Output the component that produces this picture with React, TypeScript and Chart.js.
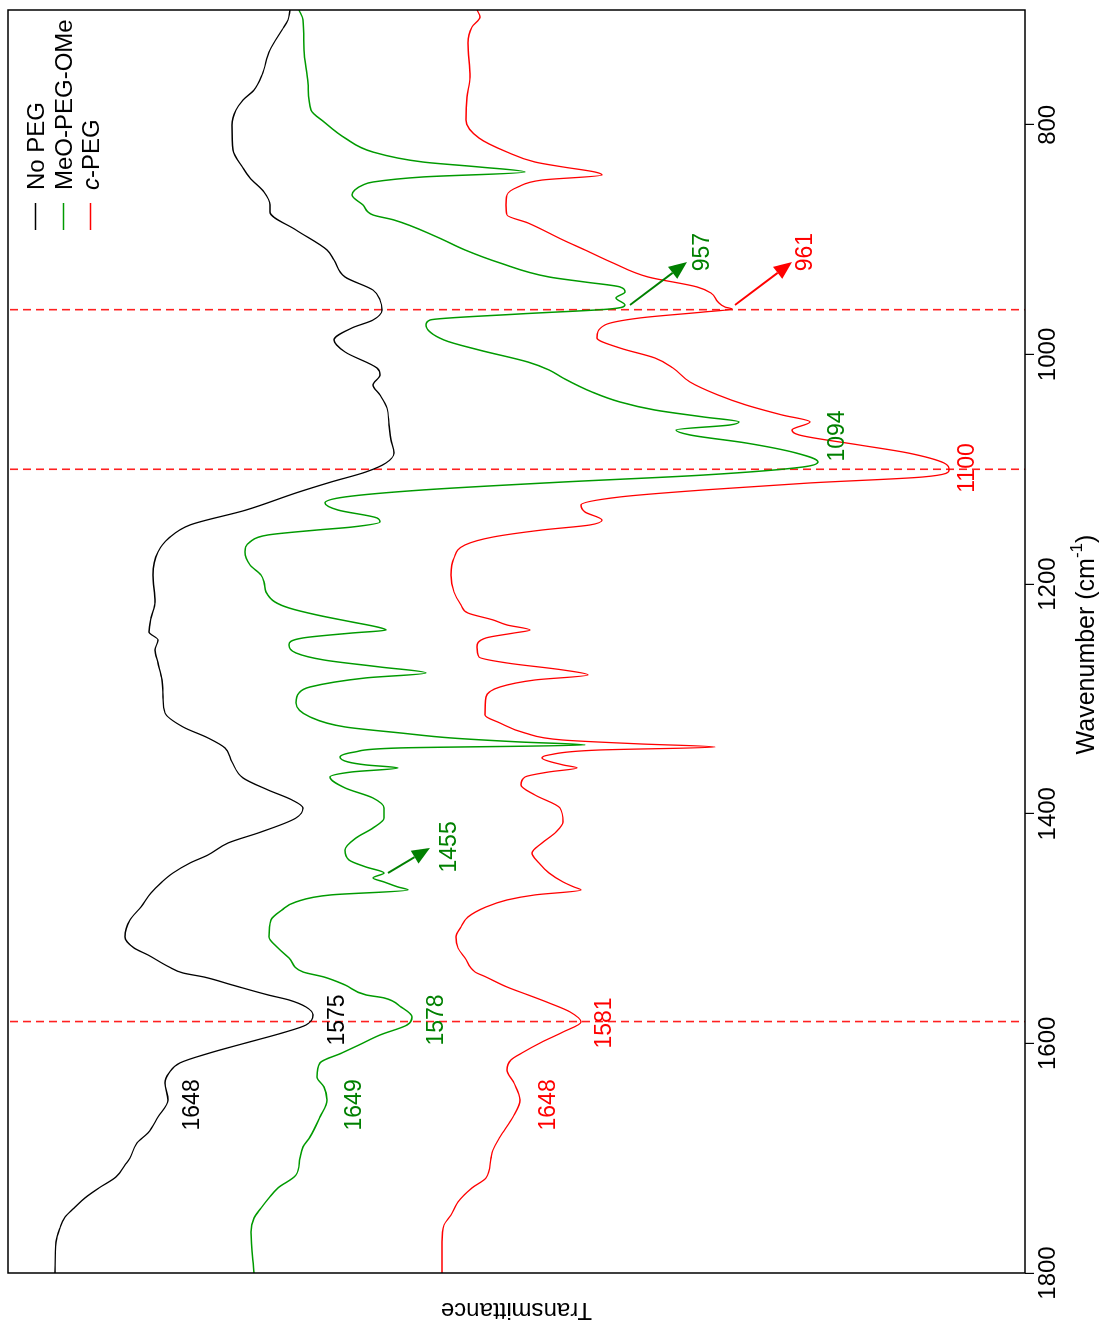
import React, { useEffect, useRef } from "react";
import { Chart, registerables } from "chart.js";

Chart.register(...registerables);

const FONT = '"Liberation Sans", Arial, Helvetica, sans-serif';

// ---------- data (wavenumber in cm-1, transmittance in arbitrary units) ----------
const noPegWavenumber = [700, 708.7, 717.4, 734.8, 756.6, 769.7, 778.4, 787.1, 800.2, 821.9, 837.6, 846.3, 858.5, 869.8, 875.9, 891.6, 909.0, 917.7, 932.5, 943.9, 952.6, 961.3, 970.0, 976.9, 987.4, 997.8, 1011.8, 1017.9, 1026.6, 1035.3, 1046.6, 1061.4, 1074.5, 1085.8, 1094.5, 1102.3, 1111.1, 1120.6, 1135.5, 1148.5, 1159.8, 1172.0, 1192.1, 1215.6, 1229.5, 1241.7, 1248.7, 1257.4, 1268.7, 1283.5, 1298.3, 1312.2, 1324.4, 1334.0, 1342.7, 1354.9, 1368.8, 1379.3, 1388.0, 1395.0, 1403.7, 1415.9, 1425.5, 1435.9, 1442.9, 1451.6, 1459.4, 1469.0, 1481.2, 1492.5, 1507.3, 1516.9, 1523.0, 1533.4, 1538.7, 1542.2, 1549.1, 1557.8, 1562.2, 1568.3, 1575.2, 1584.0, 1591.0, 1599.6, 1608.3, 1617.0, 1625.8, 1634.5, 1649.3, 1664.1, 1678.0, 1686.7, 1699.8, 1705.9, 1716.3, 1725.9, 1734.6, 1743.5, 1751.3, 1760.8, 1773.0, 1800];
const noPegTransmittance = [73.5, 73.7, 74.3, 75.5, 76.3, 77.1, 78.2, 78.9, 79.3, 79.2, 78.2, 77.5, 76.1, 75.5, 75.5, 72.9, 69.8, 69.1, 68.0, 65.2, 64.5, 64.3, 65.2, 67.3, 69.1, 68.0, 64.8, 64.5, 65.2, 64.5, 63.8, 63.6, 63.4, 63.1, 63.9, 65.9, 69.4, 72.9, 77.9, 83.5, 85.6, 86.7, 87.2, 87.0, 87.4, 87.6, 86.7, 87.0, 86.7, 86.3, 86.2, 86.0, 84.2, 81.7, 80.0, 79.3, 78.2, 75.7, 73.3, 72.2, 72.9, 76.4, 79.7, 81.7, 83.5, 85.2, 86.3, 87.4, 88.4, 89.5, 90.0, 89.1, 87.7, 85.6, 84.2, 82.1, 79.3, 75.7, 73.6, 71.9, 71.2, 71.9, 74.3, 77.9, 81.5, 84.5, 85.6, 86.0, 85.7, 86.7, 87.7, 88.8, 89.5, 90.0, 90.9, 92.6, 94.0, 95.1, 96.0, 96.5, 96.9, 97.0];

const meoPegWavenumber = [700, 708.7, 734.8, 763.6, 787.1, 797.5, 811.5, 823.7, 832.4, 836.7, 841.1, 845.4, 849.8, 852.4, 861.1, 869.8, 878.5, 882.9, 897.7, 909.0, 920.3, 932.5, 936.9, 941.2, 945.6, 950.8, 956.9, 960.4, 964.7, 970.0, 974.3, 987.4, 996.1, 1006.6, 1013.5, 1020.5, 1032.7, 1041.4, 1048.4, 1054.5, 1058.8, 1061.4, 1065.8, 1070.1, 1077.1, 1085.8, 1093.6, 1098.0, 1105.0, 1111.1, 1118.0, 1124.1, 1129.3, 1135.5, 1142.4, 1145.9, 1150.3, 1152.9, 1157.2, 1163.3, 1172.0, 1183.3, 1192.1, 1198.2, 1206.9, 1215.6, 1220.8, 1226.9, 1233.0, 1237.3, 1240.0, 1242.6, 1246.9, 1253.0, 1260.0, 1266.1, 1272.2, 1277.4, 1281.7, 1289.6, 1294.8, 1303.5, 1315.7, 1324.4, 1329.7, 1334.0, 1337.5, 1340.1, 1342.7, 1346.2, 1350.6, 1354.9, 1357.5, 1360.1, 1363.6, 1368.0, 1377.5, 1386.3, 1395.0, 1403.7, 1412.4, 1421.1, 1431.6, 1440.3, 1446.4, 1451.6, 1455.9, 1459.4, 1463.8, 1466.4, 1470.7, 1476.8, 1483.8, 1492.5, 1507.3, 1516.9, 1525.6, 1537.8, 1542.2, 1549.1, 1557.8, 1560.4, 1568.3, 1577.0, 1584.0, 1592.7, 1601.4, 1608.3, 1617.0, 1629.3, 1638.0, 1649.3, 1664.1, 1681.5, 1690.2, 1699.8, 1714.6, 1725.9, 1734.6, 1743.5, 1752.2, 1764.3, 1800];
const meoPegTransmittance = [72.6, 72.2, 72.1, 71.7, 71.4, 70.1, 68.0, 65.2, 60.2, 54.6, 50.0, 60.2, 65.2, 66.2, 67.3, 66.2, 65.2, 63.1, 58.8, 56.0, 52.5, 47.6, 44.0, 40.5, 40.0, 40.9, 40.0, 41.5, 50.5, 59.5, 59.9, 58.1, 54.6, 49.7, 47.6, 46.2, 43.3, 40.5, 37.0, 32.1, 28.6, 29.5, 34.9, 33.5, 27.9, 22.9, 20.7, 22.2, 32.1, 46.2, 60.2, 68.0, 70.0, 68.7, 64.8, 64.5, 67.3, 70.8, 75.7, 77.5, 78.0, 77.5, 76.4, 76.1, 75.9, 75.0, 73.6, 70.8, 67.3, 64.8, 63.9, 67.3, 72.2, 73.6, 72.9, 70.1, 64.5, 59.9, 65.9, 71.5, 72.6, 72.9, 71.5, 68.0, 62.4, 57.4, 50.5, 44.0, 62.5, 67.0, 68.5, 67.7, 65.9, 62.7, 67.3, 69.5, 68.0, 65.2, 64.1, 64.1, 65.2, 66.9, 68.0, 67.6, 65.9, 64.1, 65.2, 64.1, 62.7, 61.7, 69.4, 72.9, 74.3, 75.4, 75.6, 74.7, 73.6, 72.2, 70.1, 68.0, 65.9, 64.1, 62.4, 61.3, 61.8, 64.5, 66.6, 68.3, 70.5, 70.8, 70.1, 69.8, 70.5, 71.5, 72.2, 72.5, 72.9, 74.7, 75.6, 76.4, 77.1, 77.4, 77.1];

const cPegWavenumber = [700, 706.1, 714.8, 728.7, 758.4, 775.8, 795.8, 811.5, 823.7, 832.4, 836.7, 841.1, 843.7, 848.1, 854.1, 861.1, 869.8, 878.5, 885.5, 900.3, 909.0, 920.3, 932.5, 941.2, 946.5, 954.3, 958.7, 960.4, 963.0, 968.2, 974.3, 985.6, 994.4, 1003.1, 1011.8, 1024.0, 1035.3, 1044.0, 1052.7, 1058.8, 1065.8, 1070.1, 1078.8, 1085.8, 1094.5, 1100.6, 1106.7, 1111.9, 1118.0, 1124.1, 1131.1, 1137.2, 1144.2, 1148.5, 1152.9, 1159.0, 1165.9, 1177.3, 1192.1, 1206.9, 1218.2, 1225.2, 1231.2, 1235.6, 1240.0, 1242.6, 1246.9, 1254.8, 1263.5, 1268.7, 1274.8, 1279.1, 1283.5, 1289.6, 1298.3, 1314.0, 1321.0, 1329.7, 1335.8, 1339.2, 1341.9, 1344.5, 1348.8, 1351.4, 1357.5, 1360.1, 1363.6, 1368.0, 1374.9, 1383.7, 1395.0, 1407.2, 1415.9, 1425.5, 1434.2, 1442.9, 1451.6, 1459.4, 1463.8, 1466.4, 1470.7, 1475.1, 1481.2, 1489.9, 1498.6, 1507.3, 1516.9, 1525.6, 1537.8, 1542.2, 1550.9, 1557.8, 1564.8, 1572.6, 1581.3, 1590.1, 1598.8, 1608.3, 1614.4, 1623.2, 1634.5, 1649.3, 1664.1, 1681.5, 1692.8, 1699.8, 1717.2, 1725.9, 1738.1, 1749.5, 1758.2, 1773.0, 1800];
const cPegTransmittance = [54.8, 54.5, 55.3, 55.7, 55.5, 55.8, 55.9, 54.6, 51.8, 49.0, 46.2, 43.0, 42.3, 48.3, 50.7, 51.8, 51.9, 51.8, 49.7, 46.2, 44.0, 41.2, 37.7, 32.8, 31.4, 30.7, 30.0, 29.3, 32.1, 38.5, 42.0, 42.8, 40.5, 37.0, 35.2, 33.5, 30.7, 27.9, 24.3, 21.5, 23.3, 22.6, 16.6, 11.7, 8.1, 7.6, 10.2, 21.5, 32.1, 40.5, 44.4, 44.0, 42.3, 43.5, 48.3, 53.2, 56.0, 57.1, 57.4, 57.1, 56.4, 55.7, 53.2, 51.8, 49.5, 51.1, 53.9, 54.8, 54.6, 51.8, 46.2, 43.7, 49.0, 52.5, 53.9, 54.0, 52.5, 50.0, 46.2, 38.5, 31.0, 42.6, 47.6, 48.3, 46.2, 44.8, 47.6, 50.0, 50.4, 49.0, 46.5, 46.2, 46.9, 48.3, 49.3, 48.6, 47.6, 46.2, 45.1, 44.4, 49.0, 51.8, 53.9, 55.7, 56.4, 56.9, 56.7, 56.0, 55.0, 53.9, 51.8, 49.7, 47.6, 45.5, 44.4, 46.2, 48.3, 50.3, 51.4, 51.8, 51.1, 50.5, 51.2, 52.5, 53.2, 53.4, 53.9, 55.3, 56.7, 57.4, 58.1, 58.3, 58.3];

const seriesNames = ["No PEG", "MeO-PEG-OMe", "c-PEG"];
const lineColors = ["#000000", "#009a00", "#ff0000"];
const textColors = ["#000000", "#008000", "#ff0000"];

const xTickValues = [800, 1000, 1200, 1400, 1600, 1800];
const markerWavenumbers = [961, 1100, 1581];

// peak annotations: label text, anchor wavenumber, anchor transmittance, series index
const peakLabelText = ["1648", "1649", "1648", "1575", "1578", "1581", "1455", "1094", "1100", "957", "961"];
const peakLabelWn = [1653.6, 1653.6, 1653.6, 1579.6, 1579.6, 1582.2, 1428.9, 1071.0, 1098.9, 910.8, 910.8];
const peakLabelT = [83.2, 67.0, 47.6, 68.7, 58.8, 42.0, 57.5, 18.7, 5.7, 32.2, 21.9];
const peakLabelSeries = [0, 1, 2, 0, 1, 2, 1, 1, 2, 1, 2];

// arrows: tail (wn, T) -> head (wn, T)
const arrowFromWn = [956.9, 956.9, 1451.6];
const arrowFromT = [39.5, 29.0, 63.7];
const arrowToWn = [919.5, 919.5, 1429.8];
const arrowToT = [33.8, 23.3, 59.5];
const arrowSeries = [1, 2, 1];

const W = 1328;
const H = 1102;

const decorPlugin = {
  id: "decor",
  beforeDatasetsDraw(chart: any) {
    const { ctx, chartArea: a, scales } = chart;
    ctx.save();
    ctx.strokeStyle = "#ff2020";
    ctx.lineWidth = 1.6;
    ctx.setLineDash([8, 5]);
    markerWavenumbers.forEach((w) => {
      const px = scales.x.getPixelForValue(w);
      ctx.beginPath();
      ctx.moveTo(px, a.top + 2);
      ctx.lineTo(px, a.bottom);
      ctx.stroke();
    });
    ctx.restore();
  },
  afterDraw(chart: any) {
    const { ctx, chartArea: a, scales } = chart;
    const xs = scales.x;
    const ys = scales.y;
    ctx.save();

    // frame
    ctx.strokeStyle = "#000";
    ctx.lineWidth = 1.5;
    ctx.setLineDash([]);
    ctx.strokeRect(a.left, a.top, a.right - a.left, a.bottom - a.top);

    // peak labels
    ctx.font = `23px ${FONT}`;
    ctx.textAlign = "center";
    ctx.textBaseline = "middle";
    peakLabelText.forEach((t, i) => {
      ctx.fillStyle = textColors[peakLabelSeries[i]];
      ctx.fillText(t, xs.getPixelForValue(peakLabelWn[i]), ys.getPixelForValue(peakLabelT[i]));
    });

    // arrows
    arrowFromWn.forEach((_, i) => {
      const x0 = xs.getPixelForValue(arrowFromWn[i]);
      const y0 = ys.getPixelForValue(arrowFromT[i]);
      const x1 = xs.getPixelForValue(arrowToWn[i]);
      const y1 = ys.getPixelForValue(arrowToT[i]);
      const ang = Math.atan2(y1 - y0, x1 - x0);
      const headLen = 18;
      const headHalf = 7.5;
      const bx = x1 - headLen * Math.cos(ang);
      const by = y1 - headLen * Math.sin(ang);
      const col = textColors[arrowSeries[i]];
      ctx.strokeStyle = col;
      ctx.fillStyle = col;
      ctx.lineWidth = 2;
      ctx.beginPath();
      ctx.moveTo(x0, y0);
      ctx.lineTo(bx, by);
      ctx.stroke();
      ctx.beginPath();
      ctx.moveTo(x1, y1);
      ctx.lineTo(bx + headHalf * Math.sin(ang), by - headHalf * Math.cos(ang));
      ctx.lineTo(bx - headHalf * Math.sin(ang), by + headHalf * Math.cos(ang));
      ctx.closePath();
      ctx.fill();
    });

    // legend (top-right)
    const rowY = [a.top + 27, a.top + 55, a.top + 82];
    ctx.font = `24px ${FONT}`;
    ctx.textAlign = "left";
    ctx.textBaseline = "alphabetic";
    seriesNames.forEach((name, i) => {
      ctx.strokeStyle = lineColors[i];
      ctx.lineWidth = 1.5;
      ctx.beginPath();
      ctx.moveTo(a.right - 220, rowY[i] + 0.5);
      ctx.lineTo(a.right - 193, rowY[i] + 0.5);
      ctx.stroke();
      ctx.fillStyle = "#000";
      const tx = a.right - 180;
      const ty = rowY[i] + 8.6;
      if (name.startsWith("c-")) {
        ctx.font = `italic 24px ${FONT}`;
        ctx.fillText("c", tx, ty);
        const cw = ctx.measureText("c").width;
        ctx.font = `24px ${FONT}`;
        ctx.fillText(name.slice(1), tx + cw, ty);
      } else {
        ctx.fillText(name, tx, ty);
      }
    });

    // x axis title with superscript
    const main = "Wavenumber (cm";
    const sup = "-1";
    const close = ")";
    ctx.fillStyle = "#000";
    ctx.font = `25px ${FONT}`;
    const wMain = ctx.measureText(main).width;
    const wClose = ctx.measureText(close).width;
    ctx.font = `17px ${FONT}`;
    const wSup = ctx.measureText(sup).width;
    const total = wMain + wSup + wClose;
    const cx = (a.left + a.right) / 2 - 3;
    const base = a.bottom + 69;
    let x = cx - total / 2;
    ctx.font = `25px ${FONT}`;
    ctx.fillText(main, x, base);
    x += wMain;
    ctx.font = `17px ${FONT}`;
    ctx.fillText(sup, x, base - 12);
    x += wSup;
    ctx.font = `25px ${FONT}`;
    ctx.fillText(close, x, base);

    // y axis title
    ctx.translate(16, (a.top + a.bottom) / 2);
    ctx.rotate(-Math.PI / 2);
    ctx.textAlign = "center";
    ctx.font = `24px ${FONT}`;
    ctx.fillText("Transmittance", 0, 8.6);

    ctx.restore();
  },
};

function toPoints(wn: number[], t: number[]) {
  return wn.map((w, i) => ({ x: w, y: t[i] })).reverse();
}

export default function App() {
  const ref = useRef<HTMLCanvasElement>(null);

  useEffect(() => {
    const canvas = ref.current;
    if (!canvas) return;
    const chart = new Chart(canvas, {
      type: "line",
      data: {
        datasets: [
          {
            label: seriesNames[0],
            data: toPoints(noPegWavenumber, noPegTransmittance),
            borderColor: lineColors[0],
            borderWidth: 1.3,
            pointRadius: 0,
            fill: false,
            cubicInterpolationMode: "monotone",
          },
          {
            label: seriesNames[1],
            data: toPoints(meoPegWavenumber, meoPegTransmittance),
            borderColor: lineColors[1],
            borderWidth: 1.5,
            pointRadius: 0,
            fill: false,
            cubicInterpolationMode: "monotone",
          },
          {
            label: seriesNames[2],
            data: toPoints(cPegWavenumber, cPegTransmittance),
            borderColor: lineColors[2],
            borderWidth: 1.3,
            pointRadius: 0,
            fill: false,
            cubicInterpolationMode: "monotone",
          },
        ],
      } as any,
      options: {
        responsive: false,
        animation: false,
        devicePixelRatio: 1,
        events: [],
        layout: { padding: { left: 55, right: 10, top: 8, bottom: 0 } },
        plugins: { legend: { display: false }, tooltip: { enabled: false } },
        scales: {
          x: {
            type: "linear",
            min: 700,
            max: 1800,
            reverse: true,
            afterBuildTicks: (s: any) => {
              s.ticks = xTickValues.map((v) => ({ value: v }));
            },
            afterFit: (s: any) => {
              s.height = 77;
            },
            grid: { drawOnChartArea: false, drawTicks: true, tickLength: 9, color: "#000", lineWidth: 1.2 },
            border: { display: false },
            ticks: {
              font: { size: 24, family: FONT },
              color: "#000",
              padding: 0,
              maxRotation: 0,
              minRotation: 0,
              autoSkip: false,
              callback: (v: any) => String(v),
            },
          },
          y: { type: "linear", min: 0, max: 101.7, display: false },
        },
      } as any,
      plugins: [decorPlugin],
    });
    return () => chart.destroy();
  }, []);

  return (
    <div style={{ position: "absolute", left: 0, top: 0, width: 1102, height: 1328, overflow: "hidden", background: "#fff" }}>
      <div
        style={{
          position: "absolute",
          left: 0,
          top: 0,
          width: W,
          height: H,
          transformOrigin: "0 0",
          transform: `translateY(${W}px) rotate(-90deg)`,
        }}
      >
        <canvas ref={ref} width={W} height={H} style={{ display: "block", width: W, height: H }} />
      </div>
    </div>
  );
}
